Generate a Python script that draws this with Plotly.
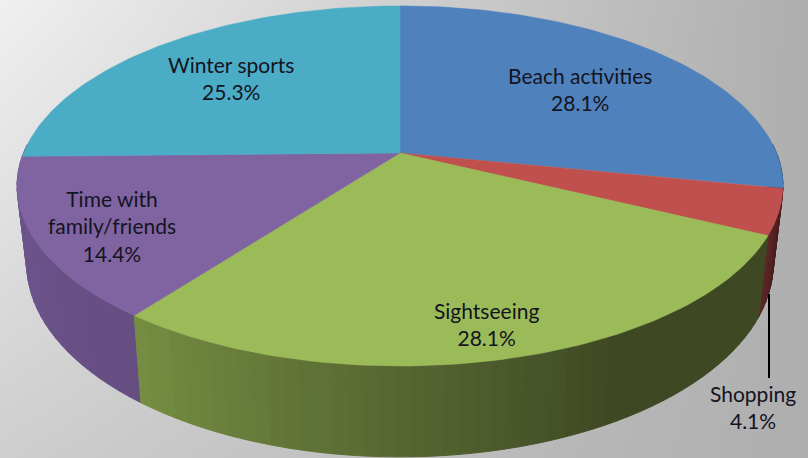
import numpy as np
import plotly.graph_objects as go

labels = ["Beach activities", "Shopping", "Sightseeing", "Time with<br>family/friends", "Winter sports"]
values = [28.1, 4.1, 28.1, 14.4, 25.3]
value_text = ["28.1%", "4.1%", "28.1%", "14.4%", "25.3%"]

top_colors = ["#4F81BD", "#C0504D", "#9BBB59", "#8064A2", "#4BACC6"]
# wall colour at slice start and slice end, and how much of the slice stays at the start colour
wall_start = [(38, 64, 100), (60, 22, 22), (62, 72, 35), (102, 78, 130), (100, 80, 130)]
wall_end = [(38, 64, 100), (92, 38, 38), (118, 142, 66), (110, 86, 145), (100, 80, 130)]
wall_hold = [0, 0, 0.35, 0, 0]
label_pos = [(580, 89), (753, 407), (486, 324), (112, 226), (231, 78)]

W, H = 808, 458
K = 0.183


def project(a, plane):
    """a: clockwise angle from the top of the pie, radians."""
    X, Y = np.sin(a), -np.cos(a)
    w = 1 - K * Y
    if plane == "top":
        return 400 + 376.5 * X / w, 153 + 174 * Y / w
    return 400 + 367 * X / w, 228 + 187 * Y / w


def rgb(c):
    return "rgb(%d,%d,%d)" % tuple(int(round(v)) for v in c)


fig = go.Figure()

# background gradient
gx = np.linspace(0, W, 41)
gy = np.linspace(0, H, 24)
GX, GY = np.meshgrid(gx, gy)
gz = 240 - 66 * (GX / W) - 34 * (GY / H) * (1 - GX / W)
fig.add_trace(go.Heatmap(x=gx, y=gy, z=gz, zmin=0, zmax=255, zsmooth="best",
                         colorscale=[[0, "black"], [1, "white"]], showscale=False, hoverinfo="skip"))

edges = 2 * np.pi * np.cumsum([0] + values) / sum(values)

# walls, back to front
quads = []
for i in range(len(values)):
    a0, a1 = edges[i], edges[i + 1]
    n = max(int((a1 - a0) / np.radians(2)), 1)
    ts = np.linspace(a0, a1, n + 1)
    for j in range(n):
        f = (j + 0.5) / n
        f = max(0.0, (f - wall_hold[i]) / (1 - wall_hold[i]))
        col = [wall_start[i][c] + (wall_end[i][c] - wall_start[i][c]) * f for c in range(3)]
        quads.append((-np.cos((ts[j] + ts[j + 1]) / 2), ts[j], ts[j + 1], col))
quads.sort(key=lambda q: q[0])
for _, t0, t1, col in quads:
    if np.cos((t0 + t1) / 2) > 0.05:
        continue
    tt = np.linspace(t0, t1, 4)
    xa, ya = project(tt, "top")
    xb, yb = project(tt[::-1], "bottom")
    fig.add_trace(go.Scatter(x=np.r_[xa, xb, xa[0]], y=np.r_[ya, yb, ya[0]], mode="lines", fill="toself",
                             fillcolor=rgb(col), line=dict(color=rgb(col), width=1), hoverinfo="skip",
                             showlegend=False))

# top face
for i in range(len(values)):
    tt = np.linspace(edges[i], edges[i + 1], 90)
    x, y = project(tt, "top")
    fig.add_trace(go.Scatter(x=np.r_[400, x, 400], y=np.r_[153, y, 153], mode="lines", fill="toself",
                             fillcolor=top_colors[i], line=dict(color=top_colors[i], width=0.5),
                             name=labels[i].replace("<br>", " "), hoverinfo="name", showlegend=False))

# leader line for Shopping
fig.add_trace(go.Scatter(x=[769, 769], y=[294, 378], mode="lines", line=dict(color="black", width=2),
                         hoverinfo="skip", showlegend=False))

for lab, val, (lx, ly) in zip(labels, value_text, label_pos):
    fig.add_annotation(x=lx, y=ly, xref="x", yref="y", text=lab + "<br>" + val, showarrow=False,
                       font=dict(family="Lato, Carlito, sans-serif", size=21, color="#14141e"), align="center")

fig.update_layout(width=W, height=H, autosize=False, margin=dict(l=0, r=0, t=0, b=0),
                  paper_bgcolor="#d0d0d0", plot_bgcolor="#d0d0d0", showlegend=False,
                  xaxis=dict(range=[0, W], visible=False, fixedrange=True),
                  yaxis=dict(range=[H, 0], visible=False, fixedrange=True))

fig.write_html("out.html", config=dict(displayModeBar=False),
               post_script="document.body.style.margin='0';document.body.style.overflow='hidden';")
